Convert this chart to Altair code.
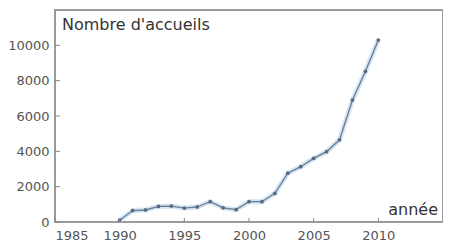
import altair as alt
import pandas as pd

years = [1990, 1991, 1992, 1993, 1994, 1995, 1996, 1997, 1998, 1999, 2000,
         2001, 2002, 2003, 2004, 2005, 2006, 2007, 2008, 2009, 2010]
accueils = [100, 650, 680, 880, 900, 790, 850, 1150, 800, 700, 1150,
            1150, 1620, 2760, 3130, 3600, 3980, 4650, 6900, 8520, 10300]
x_ticks = [1985, 1990, 1995, 2000, 2005, 2010]
y_ticks = [0, 2000, 4000, 6000, 8000, 10000]

df = pd.DataFrame({"annee": years, "n": accueils})
xt = pd.DataFrame({"t": x_ticks})
yt = pd.DataFrame({"t": y_ticks})

W, H = 388, 212
xs = alt.Scale(domain=[1985, 2015], nice=False, zero=False)
ys = alt.Scale(domain=[0, 12000], nice=False)

base = alt.Chart(df)

halo = base.mark_line(color="#d4e6f5", strokeWidth=5).encode(
    x=alt.X("annee:Q", scale=xs,
            axis=alt.Axis(values=x_ticks, format="d", title=None, ticks=False,
                          domain=False, grid=False, labelPadding=7,
                          labelFontSize=13, labelColor="#555",
                          labelFont="DejaVu Sans")),
    y=alt.Y("n:Q", scale=ys,
            axis=alt.Axis(values=y_ticks, format="d", title=None, ticks=False,
                          domain=False, grid=False, labelPadding=6,
                          labelFontSize=13, labelColor="#555",
                          labelFont="DejaVu Sans")),
)
line = base.mark_line(color="#6a7a90", strokeWidth=1.3).encode(
    x=alt.X("annee:Q", scale=xs), y=alt.Y("n:Q", scale=ys))
pts = base.mark_circle(color="#5a6a80", size=14, opacity=1).encode(
    x=alt.X("annee:Q", scale=xs), y=alt.Y("n:Q", scale=ys))

xtick = alt.Chart(xt).mark_rule(color="#888", strokeWidth=1).encode(
    x=alt.X("t:Q", scale=xs), y=alt.value(H), y2=alt.value(H - 4))
ytick = alt.Chart(yt).mark_rule(color="#888", strokeWidth=1).encode(
    y=alt.Y("t:Q", scale=ys), x=alt.value(0), x2=alt.value(5))

title = alt.Chart(pd.DataFrame({"s": ["Nombre d'accueils"]})).mark_text(
    align="left", baseline="alphabetic", font="DejaVu Sans", fontSize=16,
    color="#333").encode(x=alt.value(7), y=alt.value(20), text="s:N")
xlab = alt.Chart(pd.DataFrame({"s": ["année"]})).mark_text(
    align="right", baseline="alphabetic", font="DejaVu Sans", fontSize=16,
    color="#333").encode(x=alt.value(W - 5), y=alt.value(H - 7), text="s:N")

chart = alt.layer(halo, line, pts, xtick, ytick, title, xlab).properties(
    width=W, height=H,
    background="white",
    autosize=alt.AutoSizeParams(type="none"),
    padding={"left": 47, "top": 2, "right": 0, "bottom": 24},
).configure_view(stroke="#9a9a9a", strokeWidth=2)

chart.save("out.html", embed_options={"renderer": "svg", "actions": False})
